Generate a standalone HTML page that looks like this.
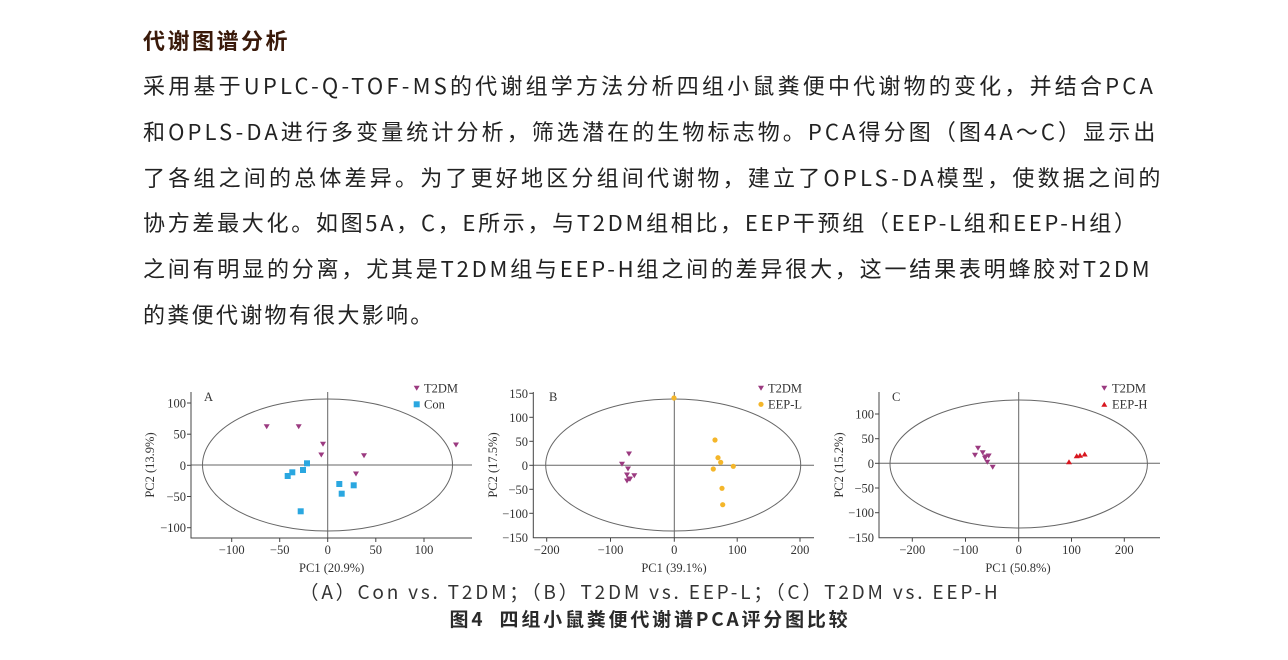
<!DOCTYPE html>
<html><head><meta charset="utf-8">
<style>
body{margin:0;width:1288px;height:660px;background:#fff;position:relative;overflow:hidden;font-family:"Noto Sans CJK SC","Liberation Sans",sans-serif;}
.t{position:absolute;left:143px;white-space:nowrap;}
.h{top:24px;font-size:22px;font-weight:bold;color:#3a1a0a;letter-spacing:2.5px;}
.p{font-size:22px;color:#222;line-height:30px;}
.c{position:absolute;left:0;width:1300px;text-align:center;white-space:nowrap;}
svg{position:absolute;left:0;top:0;}
svg text{font-family:"Liberation Serif",serif;fill:#333;}
</style></head><body>
<div class="t h">代谢图谱分析</div>
<div class="t p" style="top:70px;letter-spacing:3.2px">采用基于UPLC-Q-TOF-MS的代谢组学方法分析四组小鼠粪便中代谢物的变化，并结合PCA</div>
<div class="t p" style="top:116px;letter-spacing:3.1px">和OPLS-DA进行多变量统计分析，筛选潜在的生物标志物。PCA得分图（图4A～C）显示出</div>
<div class="t p" style="top:162px;letter-spacing:3.2px">了各组之间的总体差异。为了更好地区分组间代谢物，建立了OPLS-DA模型，使数据之间的</div>
<div class="t p" style="top:207px;letter-spacing:2.7px">协方差最大化。如图5A，C，E所示，与T2DM组相比，EEP干预组（EEP-L组和EEP-H组）</div>
<div class="t p" style="top:253px;letter-spacing:2.8px">之间有明显的分离，尤其是T2DM组与EEP-H组之间的差异很大，这一结果表明蜂胶对T2DM</div>
<div class="t p" style="top:299px;letter-spacing:2.3px">的粪便代谢物有很大影响。</div>
<div class="c" style="top:578px;font-size:19px;color:#333;letter-spacing:2.8px">（A）Con vs. T2DM；（B）T2DM vs. EEP-L；（C）T2DM vs. EEP-H</div>
<div class="c" style="top:605px;font-size:19px;font-weight:bold;color:#2a2a2a;letter-spacing:2.8px">图4&nbsp;&nbsp;四组小鼠粪便代谢谱PCA评分图比较</div>

<svg width="1288" height="660" viewBox="0 0 1288 660">
<defs>
<path id="tv" d="M-3,-2.5 L3,-2.5 L0,2.5 Z"/>
<path id="tu" d="M-3,2.5 L3,2.5 L0,-2.5 Z"/>
</defs>
<g stroke="#444" stroke-width="1" fill="none">
<ellipse cx="327.5" cy="465" rx="125" ry="66" stroke="#666"/>
<line x1="327.7" y1="392" x2="327.7" y2="538" stroke="#666"/>
<line x1="191" y1="465" x2="472" y2="465" stroke="#666"/>
<polyline points="191,392 191,538 472,538"/>
<ellipse cx="673.2" cy="465" rx="127.5" ry="66" stroke="#666"/>
<line x1="674.3" y1="392" x2="674.3" y2="538" stroke="#666"/>
<line x1="533.3" y1="465.3" x2="814" y2="465.3" stroke="#666"/>
<polyline points="533.3,392 533.3,537.7 814,537.7"/>
<ellipse cx="1018.7" cy="464" rx="128.7" ry="64" stroke="#666"/>
<line x1="1018.7" y1="392" x2="1018.7" y2="537.7" stroke="#666"/>
<line x1="879" y1="463.3" x2="1160" y2="463.3" stroke="#666"/>
<polyline points="879,392 879,537.7 1160,537.7"/>
</g>
<g stroke="#444" stroke-width="1">
<line x1="187" y1="403" x2="191" y2="403"/><line x1="187" y1="434.2" x2="191" y2="434.2"/><line x1="187" y1="465.3" x2="191" y2="465.3"/><line x1="187" y1="496.5" x2="191" y2="496.5"/><line x1="187" y1="527.7" x2="191" y2="527.7"/>
<line x1="231.7" y1="538" x2="231.7" y2="542"/><line x1="279.7" y1="538" x2="279.7" y2="542"/><line x1="327.7" y1="538" x2="327.7" y2="542"/><line x1="375.8" y1="538" x2="375.8" y2="542"/><line x1="424" y1="538" x2="424" y2="542"/>
<line x1="529.3" y1="393.3" x2="533.3" y2="393.3"/><line x1="529.3" y1="417.3" x2="533.3" y2="417.3"/><line x1="529.3" y1="441.3" x2="533.3" y2="441.3"/><line x1="529.3" y1="465.3" x2="533.3" y2="465.3"/><line x1="529.3" y1="489.3" x2="533.3" y2="489.3"/><line x1="529.3" y1="513.3" x2="533.3" y2="513.3"/>
<line x1="546.7" y1="537.7" x2="546.7" y2="541.7"/><line x1="610.5" y1="537.7" x2="610.5" y2="541.7"/><line x1="674.3" y1="537.7" x2="674.3" y2="541.7"/><line x1="737.2" y1="537.7" x2="737.2" y2="541.7"/><line x1="800" y1="537.7" x2="800" y2="541.7"/>
<line x1="875" y1="414" x2="879" y2="414"/><line x1="875" y1="438.7" x2="879" y2="438.7"/><line x1="875" y1="463.3" x2="879" y2="463.3"/><line x1="875" y1="488" x2="879" y2="488"/><line x1="875" y1="512.7" x2="879" y2="512.7"/>
<line x1="912.3" y1="537.7" x2="912.3" y2="541.7"/><line x1="965.5" y1="537.7" x2="965.5" y2="541.7"/><line x1="1018.7" y1="537.7" x2="1018.7" y2="541.7"/><line x1="1071.5" y1="537.7" x2="1071.5" y2="541.7"/><line x1="1124.3" y1="537.7" x2="1124.3" y2="541.7"/>
</g>
<g font-size="12.5">
<g text-anchor="end">
<text x="186" y="407.5">100</text><text x="186" y="438.7">50</text><text x="186" y="469.8">0</text><text x="186" y="501">−50</text><text x="186" y="532">−100</text>
<text x="528" y="397.8">150</text><text x="528" y="421.8">100</text><text x="528" y="445.8">50</text><text x="528" y="469.8">0</text><text x="528" y="493.8">−50</text><text x="528" y="517.8">−100</text><text x="528" y="542">−150</text>
<text x="874" y="418.5">100</text><text x="874" y="443.2">50</text><text x="874" y="467.8">0</text><text x="874" y="492.5">−50</text><text x="874" y="517.2">−100</text><text x="874" y="542">−150</text>
</g>
<g text-anchor="middle">
<text x="231.7" y="554">−100</text><text x="279.7" y="554">−50</text><text x="327.7" y="554">0</text><text x="375.8" y="554">50</text><text x="424" y="554">100</text>
<text x="546.7" y="554">−200</text><text x="610.5" y="554">−100</text><text x="674.3" y="554">0</text><text x="737.2" y="554">100</text><text x="800" y="554">200</text>
<text x="912.3" y="554">−200</text><text x="965.5" y="554">−100</text><text x="1018.7" y="554">0</text><text x="1071.5" y="554">100</text><text x="1124.3" y="554">200</text>
<text x="331.7" y="572">PC1 (20.9%)</text><text x="674" y="572">PC1 (39.1%)</text><text x="1018" y="572">PC1 (50.8%)</text>
<text transform="translate(154,465) rotate(-90)">PC2 (13.9%)</text>
<text transform="translate(497,465) rotate(-90)">PC2 (17.5%)</text>
<text transform="translate(843,465) rotate(-90)">PC2 (15.2%)</text>
</g>
<text x="204" y="401">A</text><text x="549" y="401">B</text><text x="892" y="401">C</text>
<text x="424" y="392.5">T2DM</text><text x="424" y="408.5">Con</text>
<text x="768" y="392.5">T2DM</text><text x="768" y="408.5">EEP-L</text>
<text x="1112" y="392.5">T2DM</text><text x="1112" y="408.5">EEP-H</text>
</g>
<g fill="#9b3a80">
<use href="#tv" x="416.7" y="388.3"/><use href="#tv" x="761" y="388.3"/><use href="#tv" x="1104.3" y="388.3"/>
<use href="#tv" x="266.7" y="426.7"/><use href="#tv" x="298.7" y="426.7"/><use href="#tv" x="323" y="444.3"/><use href="#tv" x="321.3" y="455"/><use href="#tv" x="364" y="455.7"/><use href="#tv" x="456" y="445"/><use href="#tv" x="356" y="474"/>
<use href="#tv" x="629" y="454"/><use href="#tv" x="622" y="464.3"/><use href="#tv" x="628" y="469"/><use href="#tv" x="627" y="475"/><use href="#tv" x="634.3" y="475.7"/><use href="#tv" x="630" y="479.3"/><use href="#tv" x="627" y="481"/><use href="#tv" x="629" y="479"/>
<use href="#tv" x="978" y="448.3"/><use href="#tv" x="975" y="455.3"/><use href="#tv" x="982.7" y="452.7"/><use href="#tv" x="985" y="458.3"/><use href="#tv" x="988.7" y="456"/><use href="#tv" x="987.3" y="462.3"/><use href="#tv" x="992.7" y="467.3"/><use href="#tv" x="985.7" y="457"/>
</g>
<g fill="#2aa7e0">
<rect x="413.7" y="401.3" width="6" height="6"/>
<rect x="284.7" y="473" width="6" height="6"/><rect x="289.3" y="469.3" width="6" height="6"/><rect x="300" y="467" width="6" height="6"/><rect x="304" y="460.3" width="6" height="6"/><rect x="297.7" y="508.3" width="6" height="6"/><rect x="336.3" y="481" width="6" height="6"/><rect x="338.7" y="490.7" width="6" height="6"/><rect x="350.7" y="482.3" width="6" height="6"/>
</g>
<g fill="#f4b62a">
<circle cx="761" cy="404.3" r="2.6"/>
<circle cx="674" cy="398" r="2.6"/><circle cx="715" cy="440" r="2.6"/><circle cx="718" cy="457.7" r="2.6"/><circle cx="720.7" cy="462.3" r="2.6"/><circle cx="733.3" cy="466.3" r="2.6"/><circle cx="713.3" cy="469" r="2.6"/><circle cx="722" cy="488.3" r="2.6"/><circle cx="722.7" cy="504.7" r="2.6"/>
</g>
<g fill="#d8161f">
<use href="#tu" x="1104.3" y="404.3"/>
<use href="#tu" x="1069" y="461.7"/><use href="#tu" x="1076.7" y="455.7"/><use href="#tu" x="1080" y="455.3"/><use href="#tu" x="1084.7" y="454"/>
</g>
</svg>
</body></html>
